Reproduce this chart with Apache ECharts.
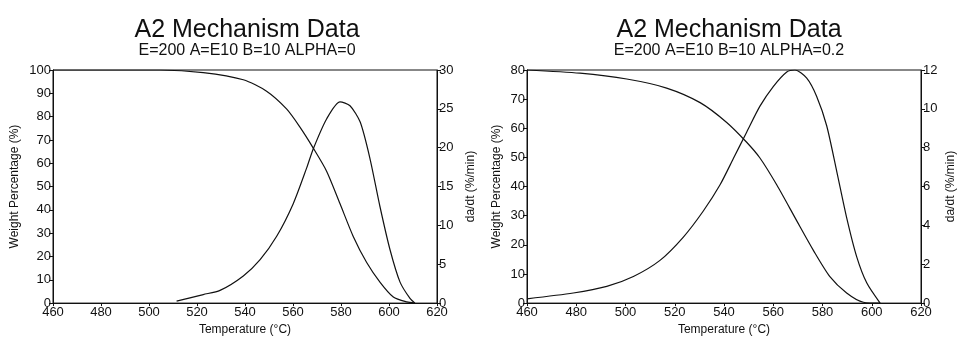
<!DOCTYPE html>
<html><head><meta charset="utf-8">
<script src="https://cdn.jsdelivr.net/npm/echarts@6/dist/echarts.min.js"></script>
<style>html,body{margin:0;padding:0;background:#fff}#c{width:958px;height:341px}</style>
</head><body><div id="c"></div>
<script>
// Left chart (ALPHA=0)
const leftWeightT = [460, 480, 504.6, 522.6, 539.3, 549, 557.4, 562.9, 568.5, 574, 579.6, 585.1, 590.7, 596.3, 601.8, 607.4, 610.8];
const leftWeightV = [100, 100, 100, 98.9, 95.8, 90.9, 83.2, 75.5, 66.4, 56.6, 42.6, 28.6, 17.4, 8.9, 2.6, 0.5, 0];
const leftRateT = [511.5, 522.6, 529.6, 539.3, 546.3, 553.2, 560.1, 565.7, 568.5, 574, 579.6, 583.75, 588, 592, 596.25, 600.4, 604.6, 608.75, 610.8];
const leftRateV = [0.25, 1.1, 1.64, 3.5, 5.6, 8.6, 12.8, 17.4, 19.9, 23.7, 25.9, 25.4, 23.3, 18.7, 12.4, 6.9, 2.7, 0.6, 0];
// Right chart (ALPHA=0.2)
const rightWeightT = [460, 481.5, 500.5, 516.7, 530.3, 541.1, 549.2, 554.6, 561.4, 569.5, 576.3, 583, 589.8, 596.6, 603.4];
const rightWeightV = [80, 78.9, 76.9, 73.8, 68.8, 62, 55.2, 49.8, 40.6, 28.3, 18.1, 9.1, 3.5, 0.3, 0];
const rightRateT = [460, 478.8, 492.4, 503.2, 514, 523.5, 531.6, 538.4, 543.8, 549.2, 554.6, 560, 565.5, 568.8, 573.6, 577.6, 581.7, 585.8, 589.8, 593.9, 598, 603.4];
const rightRateV = [0.22, 0.52, 0.86, 1.37, 2.2, 3.4, 4.74, 6.09, 7.44, 8.8, 10.14, 11.15, 11.9, 12.0, 11.58, 10.65, 9.13, 6.77, 4.4, 2.38, 1.03, 0];

const titles = ['A2 Mechanism Data', 'A2 Mechanism Data'];
const subtitles = ['E=200 A=E10 B=10 ALPHA=0', 'E=200 A=E10 B=10 ALPHA=0.2'];
const xName = 'Temperature (°C)';
const yLeftName = 'Weight Percentage (%)';
const yRightName = 'da/dt (%/min)';

const zip = (a, b) => a.map((v, i) => [v, b[i]]);
const FONT = '"Liberation Sans", Arial, sans-serif';

function xAxis(gi) {
  return {
    type: 'value', gridIndex: gi, min: 460, max: 620, interval: 20,
    name: xName, nameLocation: 'middle', nameGap: 20,
    nameTextStyle: { fontFamily: FONT, fontSize: 12, color: '#111' },
    axisLine: { show: true, lineStyle: { color: '#111', width: 1 } },
    axisTick: { show: true, length: 3, lineStyle: { color: '#111' } },
    axisLabel: { fontFamily: FONT, fontSize: 13, color: '#111', margin: 3 },
    splitLine: { show: false }
  };
}
function yAxis(gi, pos, max, interval, name, nameGap) {
  return {
    type: 'value', gridIndex: gi, position: pos, min: 0, max: max, interval: interval,
    name: name, nameLocation: 'middle', nameGap: nameGap, nameRotate: 90,
    nameTextStyle: { fontFamily: FONT, fontSize: 12, color: '#111' },
    axisLine: { show: true, lineStyle: { color: '#111', width: 1 } },
    axisTick: { show: true, length: 4, lineStyle: { color: '#111' } },
    axisLabel: { fontFamily: FONT, fontSize: 13, color: '#111', margin: 2 },
    splitLine: { show: false }
  };
}
const lineStyle = { color: '#111', width: 1.2 };
function line(xi, yi, data) {
  return { type: 'line', xAxisIndex: xi, yAxisIndex: yi, data: data, smooth: 0.25,
    showSymbol: false, lineStyle: lineStyle, animation: false };
}

const chart = echarts.init(document.getElementById('c'));
chart.setOption({
  backgroundColor: '#fff',
  animation: false,
  title: [
    { text: titles[0], subtext: subtitles[0], left: 242, top: 13, textAlign: 'center', itemGap: 0,
      textStyle: { fontFamily: FONT, fontSize: 25, fontWeight: 'normal', color: '#111' },
      subtextStyle: { fontFamily: FONT, fontSize: 16, color: '#111' } },
    { text: titles[1], subtext: subtitles[1], left: 724, top: 13, textAlign: 'center', itemGap: 0,
      textStyle: { fontFamily: FONT, fontSize: 25, fontWeight: 'normal', color: '#111' },
      subtextStyle: { fontFamily: FONT, fontSize: 16, color: '#111' } }
  ],
  grid: [
    { left: 53, right: 521, top: 70, bottom: 33, show: true, borderColor: '#111', borderWidth: 1 },
    { left: 527, right: 37, top: 70, bottom: 34, show: true, borderColor: '#111', borderWidth: 1 }
  ],
  xAxis: [xAxis(0), xAxis(1)],
  yAxis: [
    yAxis(0, 'left', 100, 10, yLeftName, 32),
    yAxis(0, 'right', 30, 5, yRightName, 28),
    yAxis(1, 'left', 80, 10, yLeftName, 24),
    yAxis(1, 'right', 12, 2, yRightName, 24)
  ],
  series: [
    line(0, 0, zip(leftWeightT, leftWeightV)),
    line(0, 1, zip(leftRateT, leftRateV)),
    line(1, 2, zip(rightWeightT, rightWeightV)),
    line(1, 3, zip(rightRateT, rightRateV))
  ]
});
</script></body></html>
